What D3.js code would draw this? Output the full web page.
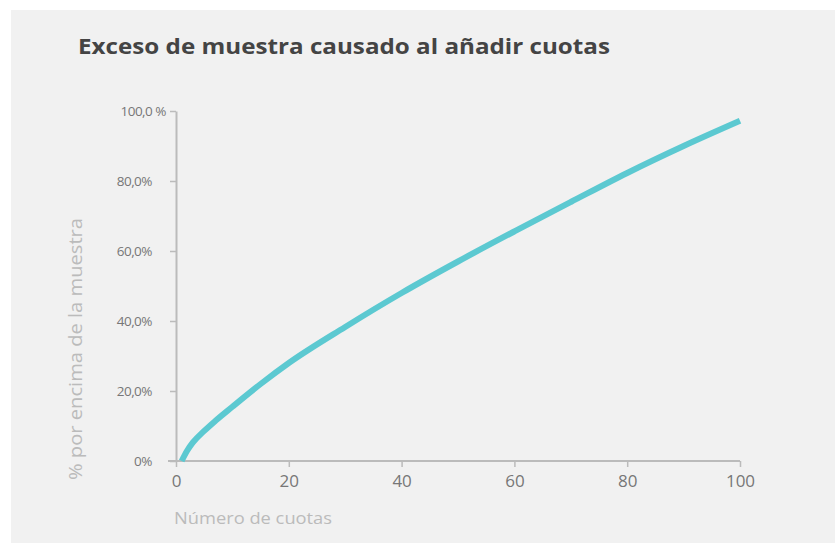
<!DOCTYPE html>
<html>
<head>
<meta charset="utf-8">
<script src="https://cdn.jsdelivr.net/npm/d3@7"></script>
<style>
  body { margin: 0; background: #fff; }
  svg { display: block; }
</style>
</head>
<body>
<div id="chart"></div>
<script>
// número de cuotas
var cuotas = [1, 2, 3, 5, 7, 10, 15, 20, 30, 40, 50, 60, 70, 80, 90, 100];
// % por encima de la muestra
var exceso = [0, 3, 5.3, 8.6, 11.5, 15.5, 22, 28, 38.3, 48, 57, 65.6, 74, 82.3, 90, 97.2];
var xTicks = [0, 20, 40, 60, 80, 100];
var yTicks = [0, 20, 40, 60, 80, 100];
var yTickLabels = ['0%', '20,0%', '40,0%', '60,0%', '80,0%', '100,0 %'];

var width = 835, height = 543;
var margin = { left: 176, right: 95, top: 111, bottom: 82 };

var svg = d3.select('#chart').append('svg')
    .attr('width', width)
    .attr('height', height);

// fondo gris
svg.append('rect')
    .attr('x', 11).attr('y', 10)
    .attr('width', width - 11).attr('height', height - 10)
    .attr('fill', '#f1f1f1');

// titulo
svg.append('text')
    .attr('x', 78).attr('y', 54)
    .attr('textLength', 532)
    .attr('lengthAdjust', 'spacingAndGlyphs')
    .style('font-family', 'Open Sans')
    .style('font-weight', 'bold')
    .style('font-size', '22px')
    .style('fill', '#444')
    .text('Exceso de muestra causado al añadir cuotas');

var x = d3.scaleLinear().domain([0, 100]).range([margin.left, width - margin.right]);
var y = d3.scaleLinear().domain([0, 100]).range([height - margin.bottom, margin.top]);

// eje x
var xAxis = svg.append('g')
    .attr('transform', 'translate(0,' + y(0) + ')')
    .call(d3.axisBottom(x).tickValues(xTicks).tickSize(6).tickSizeOuter(0).tickPadding(8));
xAxis.select('path').attr('d', 'M' + (x(0) - 8) + ',0H' + x(100))
    .style('stroke', '#bbb').style('stroke-width', 2);
xAxis.selectAll('line').style('stroke', '#bbb').style('stroke-width', 1.5);
xAxis.selectAll('text')
    .style('font-family', 'Open Sans')
    .style('font-size', '17px')
    .style('fill', '#777');

// eje y
var yAxis = svg.append('g')
    .attr('transform', 'translate(' + x(0) + ',0)')
    .call(d3.axisLeft(y).tickValues(yTicks).tickSize(6).tickSizeOuter(0).tickPadding(18)
        .tickFormat(function (d, i) { return yTickLabels[i]; }));
yAxis.select('path').style('stroke', '#bbb').style('stroke-width', 2);
yAxis.selectAll('line').style('stroke', '#bbb').style('stroke-width', 1.5);
yAxis.selectAll('text')
    .style('font-family', 'Open Sans')
    .style('font-size', '13.5px')
    .style('letter-spacing', '-0.5px')
    .style('fill', '#777')
    .attr('dx', function (d) { return d === 100 ? 14 : 0; });

// titulos de ejes
svg.append('text')
    .attr('x', 174).attr('y', 524)
    .attr('textLength', 158)
    .attr('lengthAdjust', 'spacingAndGlyphs')
    .style('font-family', 'Open Sans')
    .style('font-size', '17px')
    .style('fill', '#bbb')
    .text('Número de cuotas');

svg.append('text')
    .attr('transform', 'translate(82,480) rotate(-90)')
    .attr('textLength', 262)
    .attr('lengthAdjust', 'spacingAndGlyphs')
    .style('font-family', 'Open Sans')
    .style('font-size', '18px')
    .style('fill', '#bbb')
    .text('% por encima de la muestra');

// linea
var line = d3.line()
    .x(function (d, i) { return x(cuotas[i]); })
    .y(function (d) { return y(d); })
    .curve(d3.curveMonotoneX);

svg.append('path')
    .datum(exceso)
    .attr('d', line)
    .attr('fill', 'none')
    .attr('stroke', '#5cc9d1')
    .attr('stroke-width', 6);
</script>
</body>
</html>
